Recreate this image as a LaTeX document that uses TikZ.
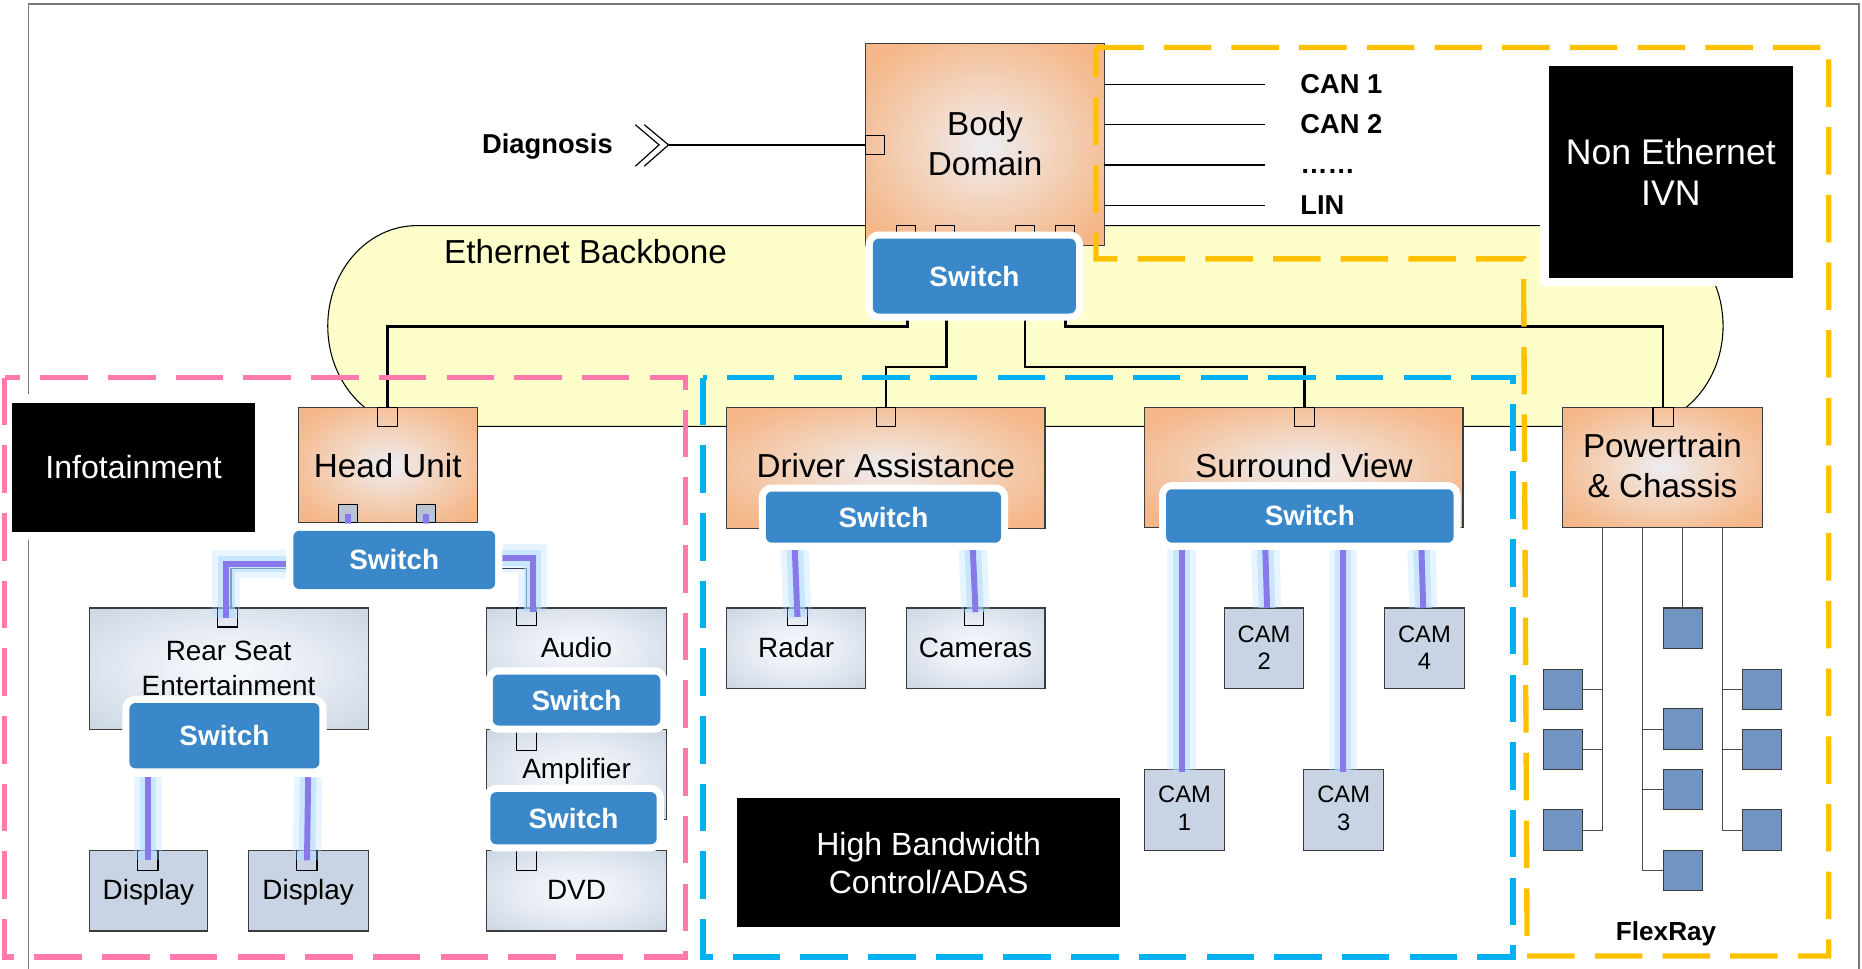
\documentclass[tikz,border=0pt]{standalone}
\usepackage{fontspec}
\setmainfont{Liberation Sans}
\usetikzlibrary{calc}

\definecolor{swblue}{RGB}{58,136,201}
\definecolor{bbyellow}{RGB}{254,254,203}
\definecolor{pinkdash}{RGB}{255,121,172}
\definecolor{cyandash}{RGB}{0,176,240}
\definecolor{golddash}{RGB}{255,192,0}
\definecolor{linkpurple}{RGB}{136,120,234}
\definecolor{glowblue}{RGB}{180,220,255}
\definecolor{ecublue}{RGB}{114,148,192}
\definecolor{camfill}{RGB}{200,212,228}
\definecolor{portgray}{RGB}{184,196,212}
\definecolor{boxline}{RGB}{60,60,60}
\definecolor{framegray}{RGB}{120,120,120}

% centre-to-edge fills for the controller and unit boxes
\pgfdeclareradialshading{orangeglow}{\pgfpoint{0bp}{0bp}}{%
  rgb(0bp)=(0.93,0.93,0.95); rgb(13bp)=(0.95,0.84,0.76);
  rgb(30bp)=(0.96,0.72,0.54); rgb(50bp)=(0.96,0.70,0.51)}
\pgfdeclareradialshading{steelglow}{\pgfpoint{0bp}{0bp}}{%
  rgb(0bp)=(0.97,0.98,0.99); rgb(15bp)=(0.91,0.93,0.96);
  rgb(33bp)=(0.81,0.85,0.90); rgb(50bp)=(0.79,0.83,0.89)}

\tikzset{
  every node/.style={inner sep=0pt, outer sep=0pt},
  ctrlbox/.style={draw=boxline, line width=0.9pt, shading=orangeglow, anchor=north west},
  unitbox/.style={draw=boxline, line width=0.9pt, shading=steelglow, anchor=north west},
  flatbox/.style={draw=boxline, line width=0.9pt, fill=camfill, anchor=north west},
  ecubox/.style={draw=boxline, line width=0.9pt, fill=ecublue, anchor=north west,
    minimum width=33pt, minimum height=34pt},
  portbox/.style={draw=black, line width=1pt, anchor=north west,
    minimum width=17pt, minimum height=16pt},
  swbox/.style={fill=swblue, rounded corners=5pt, anchor=north west,
    preaction={draw=white, line width=12pt},
    text=white, font=\bfseries\fontsize{23.5}{28}\selectfont},
  blackbox/.style={fill=black, anchor=north west,
    preaction={draw=white, line width=14pt}, text=white, align=center},
  bigtext/.style={anchor=base, font=\fontsize{28}{34}\selectfont},
  smalltext/.style={anchor=base, font=\fontsize{23.5}{28}\selectfont},
  camtext/.style={anchor=base, font=\fontsize{20}{23}\selectfont},
  boldtag/.style={anchor=base, font=\bfseries\fontsize{23}{28}\selectfont},
  busline/.style={draw=black, line width=2.2pt},
  wireline/.style={draw=black, line width=1pt},
  frline/.style={draw=black!70, line width=0.9pt},
  ethlink/.style={draw=linkpurple, line width=5pt,
    preaction={draw=glowblue, draw opacity=0.3, line width=24pt},
    preaction={draw=glowblue, draw opacity=0.6, line width=14pt}},
  zoneline/.style={line width=4.5pt, dash pattern=on 40pt off 17pt},
}

\begin{document}
\begin{tikzpicture}[x=1pt,y=-1pt]
\useasboundingbox (0,0) rectangle (1568,816);

% outer frame
\draw[framegray, line width=1.2pt] (24,816) -- (24,3.5) -- (1565.5,3.5) -- (1565.5,816);

% Ethernet backbone
\path[fill=bbyellow, draw=black, line width=0.9pt]
  (351,190) -- (1376,190)
  arc[start angle=90, end angle=-90, x radius=75pt, y radius=84.5pt]
  -- (351,359)
  arc[start angle=270, end angle=90, x radius=75pt, y radius=84.5pt] -- cycle;
\node[bigtext, anchor=base west] (bbtext) at (374,222) {Ethernet Backbone};

% domain controllers
\node[ctrlbox, minimum width=201pt, minimum height=170pt] (body) at (729,37) {};
\node[bigtext] (bodyt1) at (body.center |- 0,114) {Body};
\node[bigtext] (bodyt2) at (body.center |- 0,148) {Domain};
\node[portbox, minimum width=16pt] (bodyport) at (729,114) {};
\node[portbox, minimum width=16pt, minimum height=14pt] (bp1) at (755,190) {};
\node[portbox, minimum width=16pt, minimum height=14pt] (bp2) at (788,190) {};
\node[portbox, minimum width=16pt, minimum height=14pt] (bp3) at (855,190) {};
\node[portbox, minimum width=16pt, minimum height=14pt] (bp4) at (889,190) {};

\node[ctrlbox, minimum width=151pt, minimum height=97pt] (hu) at (251,343) {};
\node[bigtext] (hut) at (hu.center |- 0,402) {Head Unit};
\node[portbox] (huport) at (318,343) {};
\node[portbox, fill=portgray, minimum width=16pt, minimum height=15pt] (hup1) at (285,425) {};
\node[portbox, fill=portgray, minimum width=16pt, minimum height=15pt] (hup2) at (351,425) {};

\node[ctrlbox, minimum width=268pt, minimum height=102pt] (drv) at (612,343) {};
\node[bigtext] (drvt) at (drv.center |- 0,402) {Driver Assistance};
\node[portbox, minimum width=16pt] (drvport) at (738,343) {};

\node[ctrlbox, minimum width=268pt, minimum height=101pt] (sv) at (964,343) {};
\node[bigtext] (svt) at (sv.center |- 0,402) {Surround View};
\node[portbox] (svport) at (1090,343) {};

\node[ctrlbox, minimum width=168pt, minimum height=101pt] (power) at (1316,343) {};
\node[bigtext] (powt1) at (power.center |- 0,385) {Powertrain};
\node[bigtext] (powt2) at (power.center |- 0,419) {\& Chassis};
\node[portbox] (pwport) at (1392,343) {};

% backbone links from the central switch
\coordinate (tapA) at (764,240);
\coordinate (tapB) at (797,240);
\coordinate (tapC) at (863,240);
\coordinate (tapD) at (897,240);
\draw[busline] (tapA) -- ++(0,35) -| (huport.north);
\draw[busline] (tapB) -- ++(0,69) -| (drvport.north);
\draw[busline] (tapC) -- ++(0,69) -| (svport.north);
\draw[busline] (tapD) -- ++(0,35) -| (pwport.north);

% diagnosis access
\node[boldtag] (diag) at (461,129.5) {Diagnosis};
\coordinate (chev) at (563,122);
\draw[line width=1pt] ($(chev)+(-28,-17)$) -- ($(chev)+(-8,0)$) -- ($(chev)+(-28,18)$);
\draw[line width=1pt] ($(chev)+(-20.5,-17)$) -- (chev) -- ($(chev)+(-20.5,18)$);
\draw[line width=1.3pt] (chev) -- (bodyport.west);

% legacy buses
\coordinate (can1end) at (1065,71);
\coordinate (can2end) at (1065,105);
\coordinate (moreend) at (1065,139);
\coordinate (linend) at (1065,173);
\draw[wireline] (body.east |- can1end) -- (can1end);
\draw[wireline] (body.east |- can2end) -- (can2end);
\draw[wireline] (body.east |- moreend) -- (moreend);
\draw[wireline] (body.east |- linend) -- (linend);
\node[boldtag, anchor=base west] (can1) at (1095,78.5) {CAN 1};
\node[boldtag, anchor=base west] (can2) at (1095,112.5) {CAN 2};
\node[boldtag, anchor=base west] (more) at (1095,146.5) {……};
\node[boldtag, anchor=base west] (lin) at (1095,180.5) {LIN};

% infotainment units
\node[unitbox, minimum width=235pt, minimum height=102pt] (rse) at (75,512) {};
\node[smalltext] (rset1) at (rse.center |- 0,556.5) {Rear Seat};
\node[smalltext] (rset2) at (rse.center |- 0,585.5) {Entertainment};
\node[portbox] (rseport) at (183,512) {};

\node[unitbox, minimum width=151pt, minimum height=68pt] (audio) at (410,512) {};
\node[smalltext] (audiot) at (audio.center |- 0,553.5) {Audio};
\node[portbox, minimum height=15pt] (audioport) at (435,512) {};

\node[unitbox, minimum width=151pt, minimum height=76pt] (amp) at (410,614) {};
\node[smalltext] (ampt) at (amp.center |- 0,655.5) {Amplifier};
\node[portbox, minimum height=18pt] (ampport) at (435,614) {};

\node[unitbox, minimum width=151pt, minimum height=68pt] (dvd) at (410,716) {};
\node[smalltext] (dvdt) at (dvd.center |- 0,757.5) {DVD};
\node[portbox, minimum height=17pt] (dvdport) at (435,716) {};

\node[flatbox, minimum width=100pt, minimum height=68pt] (disp1) at (75,716) {};
\node[smalltext] (disp1t) at (disp1.center |- 0,757.5) {Display};
\node[portbox, minimum height=17pt] (disp1port) at (116,716) {};

\node[flatbox, minimum width=101pt, minimum height=68pt] (disp2) at (209,716) {};
\node[smalltext] (disp2t) at (disp2.center |- 0,757.5) {Display};
\node[portbox, minimum height=17pt] (disp2port) at (250,716) {};

% ADAS units
\node[unitbox, minimum width=117pt, minimum height=68pt] (radar) at (612,512) {};
\node[smalltext] (radart) at (radar.center |- 0,553.5) {Radar};
\node[portbox, minimum height=15pt] (radarport) at (663,512) {};

\node[unitbox, minimum width=117pt, minimum height=68pt] (cams) at (763,512) {};
\node[smalltext] (camst) at (cams.center |- 0,553.5) {Cameras};
\node[portbox, minimum width=16pt, minimum height=15pt] (camsport) at (812,512) {};

\node[flatbox, minimum width=67pt, minimum height=68pt] (cam2) at (1031,512) {};
\node[camtext] (cam2a) at (cam2.center |- 0,541) {CAM};
\node[camtext] (cam2b) at (cam2.center |- 0,564) {2};
\node[flatbox, minimum width=67pt, minimum height=68pt] (cam4) at (1166,512) {};
\node[camtext] (cam4a) at (cam4.center |- 0,541) {CAM};
\node[camtext] (cam4b) at (cam4.center |- 0,564) {4};
\node[flatbox, minimum width=67pt, minimum height=68pt] (cam1) at (964,648) {};
\node[camtext] (cam1a) at (cam1.center |- 0,676) {CAM};
\node[camtext] (cam1b) at (cam1.center |- 0,699) {1};
\node[flatbox, minimum width=67pt, minimum height=68pt] (cam3) at (1098,648) {};
\node[camtext] (cam3a) at (cam3.center |- 0,676) {CAM};
\node[camtext] (cam3b) at (cam3.center |- 0,699) {3};

% Ethernet links inside the zones
\coordinate (huleft) at (247,479);
\coordinate (huright) at (417,479);
\draw[wireline] (huleft) -| ($(rseport.north)+(3,0)$);
\draw[wireline] (huright) -| (audioport.north);
\draw[draw=linkpurple, line width=5pt] (hup1.center) -- ++(0,16);
\draw[draw=linkpurple, line width=5pt] (hup2.center) -- ++(0,16);
\draw[ethlink] ($(huleft)+(0,-4)$) -| ($(rseport.center)+(-1,0)$);
\draw[ethlink] ($(huright)+(0,-9)$) -| ($(audioport.center)+(5,-4)$);
\draw[ethlink] ($(disp1port.center)+(0,-70)$) -- (disp1port.center);
\draw[ethlink] ($(disp2port.center)+(1,-70)$) -- (disp2port.center);
\draw[ethlink] ($(radarport.center)+(-2.5,-64)$) -- (radarport.center);
\draw[ethlink] ($(camsport.center)+(-1,-62)$) -- ($(camsport.center)+(1.5,-4)$);
\draw[ethlink] ($(cam1.north)+(-2.5,-193)$) -- ($(cam1.north)+(-2.5,2)$);
\draw[ethlink] ($(cam3.north)+(-0.5,-193)$) -- ($(cam3.north)+(-0.5,2)$);
\draw[ethlink] ($(cam2.north)+(1,-50)$) -- ($(cam2.north)+(2.5,0)$);
\draw[ethlink] ($(cam4.north)+(-2.5,-50)$) -- ($(cam4.north)+(-1,0)$);

% switches
\node[swbox, minimum width=171pt, minimum height=63pt] (swbody) at (735,201) {Switch};
\node[swbox, minimum width=170pt, minimum height=49pt] (swhu) at (247,447) {Switch};
\node[swbox, minimum width=160pt, minimum height=55pt] (swrse) at (109,592) {Switch};
\node[swbox, minimum width=141pt, minimum height=43pt] (swaudio) at (415,568) {Switch};
\node[swbox, minimum width=140pt, minimum height=44pt] (swamp) at (413,667) {Switch};
\node[swbox, minimum width=198pt, minimum height=43pt] (swda) at (645,414) {Switch};
\node[swbox, minimum width=242pt, minimum height=45pt] (swsv) at (982,412) {Switch};

% FlexRay cluster
\node[ecubox] (eL1) at (1300,563.5) {};
\node[ecubox] (eL2) at (1300,614) {};
\node[ecubox] (eL3) at (1300,682) {};
\node[ecubox] (eM1) at (1400.5,512) {};
\node[ecubox] (eM2) at (1400.5,597) {};
\node[ecubox] (eM3) at (1400.5,648) {};
\node[ecubox] (eM4) at (1400.5,716) {};
\node[ecubox] (eR1) at (1467.5,563.5) {};
\node[ecubox] (eR2) at (1467.5,614) {};
\node[ecubox] (eR3) at (1467.5,682) {};
\coordinate (frL) at (1349.5,444);
\coordinate (frM) at (1383,444);
\coordinate (frR) at (1450.6,444);
\draw[frline] (frL) |- (eL3.east);
\draw[frline] (eL1.east) -- (eL1.east -| frL);
\draw[frline] (eL2.east) -- (eL2.east -| frL);
\draw[frline] (frM) |- (eM4.west);
\draw[frline] (eM2.west) -- (eM2.west -| frM);
\draw[frline] (eM3.west) -- (eM3.west -| frM);
\draw[frline] (power.south -| eM1.north) -- (eM1.north);
\draw[frline] (frR) |- (eR3.west);
\draw[frline] (eR1.west) -- (eR1.west -| frR);
\draw[frline] (eR2.west) -- (eR2.west -| frR);
\node[boldtag, font=\bfseries\fontsize{22}{26}\selectfont] (flexray) at (1403,792) {FlexRay};

% zone titles
\node[blackbox, minimum width=205pt, minimum height=109pt, font=\fontsize{27}{32}\selectfont] (infot) at (10,339) {Infotainment};
\node[blackbox, minimum width=206pt, minimum height=178pt, font=\fontsize{30}{35}\selectfont] (ivn) at (1304,56) {Non Ethernet\\IVN};
\node[blackbox, minimum width=322pt, minimum height=109pt, font=\fontsize{27}{32}\selectfont] (hbw) at (621,672) {High Bandwidth\\Control/ADAS};

% zones
\draw[zoneline, pinkdash] (4,318) rectangle (577,806);
\draw[zoneline, cyandash] (592,318) rectangle (1274,806);
\draw[zoneline, golddash] (923,40) -- (1540,40) -- (1540,805) -- (1286,805) -- (1283,218) -- (923,218) -- cycle;
\end{tikzpicture}
\end{document}
